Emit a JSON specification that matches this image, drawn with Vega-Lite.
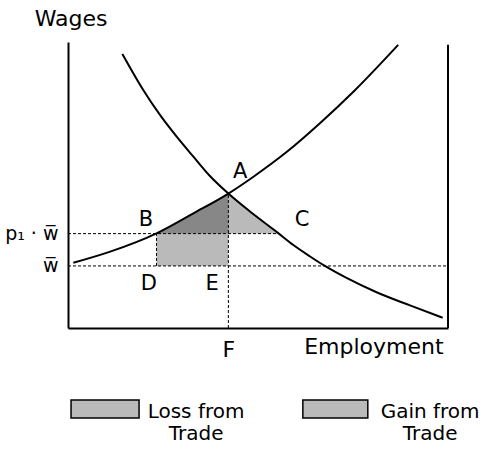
{
  "$schema": "https://vega.github.io/schema/vega-lite/v6.json",
  "autosize": "none",
  "width": 380,
  "height": 286,
  "padding": {"left": 68, "top": 42, "right": 33, "bottom": 121},
  "background": "white",
  "config": {
    "view": {"stroke": null},
    "font": "DejaVu Sans",
    "text": {"font": "DejaVu Sans", "color": "black"}
  },
  "datasets": {
    "curves": [
      {"curve": "supply", "employment": 1.4, "wage": 22.8},
      {"curve": "supply", "employment": 11.1, "wage": 26.7},
      {"curve": "supply", "employment": 23.3, "wage": 33.1},
      {"curve": "supply", "employment": 33.0, "wage": 40.1},
      {"curve": "supply", "employment": 42.2, "wage": 47.0},
      {"curve": "supply", "employment": 48.8, "wage": 52.9},
      {"curve": "supply", "employment": 57.6, "wage": 61.6},
      {"curve": "supply", "employment": 66.3, "wage": 71.6},
      {"curve": "supply", "employment": 75.1, "wage": 82.6},
      {"curve": "supply", "employment": 86.9, "wage": 99.0},
      {"curve": "demand", "employment": 14.3, "wage": 95.8},
      {"curve": "demand", "employment": 19.8, "wage": 83.2},
      {"curve": "demand", "employment": 24.2, "wage": 74.5},
      {"curve": "demand", "employment": 28.6, "wage": 66.9},
      {"curve": "demand", "employment": 33.0, "wage": 59.9},
      {"curve": "demand", "employment": 37.1, "wage": 53.5},
      {"curve": "demand", "employment": 42.2, "wage": 47.0},
      {"curve": "demand", "employment": 48.4, "wage": 40.2},
      {"curve": "demand", "employment": 54.9, "wage": 33.6},
      {"curve": "demand", "employment": 59.3, "wage": 29.0},
      {"curve": "demand", "employment": 63.6, "wage": 25.1},
      {"curve": "demand", "employment": 67.6, "wage": 21.7},
      {"curve": "demand", "employment": 73.3, "wage": 17.5},
      {"curve": "demand", "employment": 81.2, "wage": 12.5},
      {"curve": "demand", "employment": 90.0, "wage": 7.9},
      {"curve": "demand", "employment": 98.6, "wage": 3.6}
    ],
    "loss": [
      {"employment": 23.3, "wage": 33.0, "base": 21.7},
      {"employment": 28.0, "wage": 36.3, "base": 21.7},
      {"employment": 33.0, "wage": 40.1, "base": 21.7},
      {"employment": 37.6, "wage": 43.5, "base": 21.7},
      {"employment": 42.2, "wage": 47.0, "base": 21.7}
    ],
    "gain": [
      {"employment": 23.3, "wage": 33.0, "base": 33.0},
      {"employment": 28.0, "wage": 36.3, "base": 33.0},
      {"employment": 33.0, "wage": 40.1, "base": 33.0},
      {"employment": 37.6, "wage": 43.5, "base": 33.0},
      {"employment": 42.2, "wage": 47.0, "base": 33.0},
      {"employment": 48.4, "wage": 40.2, "base": 33.0},
      {"employment": 55.3, "wage": 33.0, "base": 33.0}
    ],
    "guides": [
      {"x": 0, "x2": 55.3, "y": 33.0, "y2": 33.0},
      {"x": 0, "x2": 100, "y": 21.7, "y2": 21.7},
      {"x": 42.2, "x2": 42.2, "y": 0, "y2": 47.0},
      {"x": 23.3, "x2": 23.3, "y": 21.7, "y2": 33.0}
    ],
    "frame": [
      {"x": 100, "x2": 100, "y": 0, "y2": 99}
    ],
    "points": [
      {"label": "A", "x": 45.3, "y": 54.5},
      {"label": "B", "x": 20.5, "y": 37.8},
      {"label": "C", "x": 61.6, "y": 37.8},
      {"label": "D", "x": 21.3, "y": 15.4},
      {"label": "E", "x": 37.9, "y": 15.4}
    ],
    "titles": [
      {"label": "Wages", "x": 0.8, "y": 108.0},
      {"label": "Employment", "x": 80.5, "y": -6.8}
    ],
    "legendBoxes": [
      {"item": "Loss from Trade", "x": 0.8, "x2": 18.7, "y": -25.2, "y2": -31.5},
      {"item": "Gain from Trade", "x": 61.8, "x2": 78.9, "y": -25.2, "y2": -31.5}
    ],
    "legendText": [
      {"item": "Loss from\nTrade", "x": 33.7, "y": -29.4},
      {"item": "Gain from\nTrade", "x": 95.3, "y": -29.4}
    ]
  },
  "layer": [
    {
      "data": {"name": "loss"},
      "mark": {"type": "area", "fill": "black", "fillOpacity": 0.27, "interpolate": "monotone"},
      "encoding": {
        "x": {"field": "employment", "type": "quantitative", "scale": {"domain": [0, 100], "nice": false, "zero": false},
          "axis": {"values": [42.2], "labelExpr": "'F'", "ticks": false, "grid": false, "title": null, "domainColor": "black", "domainWidth": 2, "labelFontSize": 22, "labelColor": "black", "labelPadding": 11, "labelFont": "DejaVu Sans"}},
        "y": {"field": "wage", "type": "quantitative", "scale": {"domain": [0, 100], "nice": false, "zero": false},
          "axis": {"values": [21.7, 33], "labelExpr": "datum.value > 30 ? 'p₁ · w̅' : 'w̅'", "ticks": false, "grid": false, "title": null, "domainColor": "black", "domainWidth": 2, "labelFontSize": 19, "labelColor": "black", "labelPadding": 10, "labelFont": "DejaVu Sans"}},
        "y2": {"field": "base"}
      }
    },
    {
      "data": {"name": "gain"},
      "mark": {"type": "area", "fill": "black", "fillOpacity": 0.27},
      "encoding": {
        "x": {"field": "employment", "type": "quantitative"},
        "y": {"field": "wage", "type": "quantitative"},
        "y2": {"field": "base"}
      }
    },
    {
      "data": {"name": "guides"},
      "mark": {"type": "rule", "color": "black", "strokeWidth": 1, "strokeDash": [3, 2]},
      "encoding": {
        "x": {"field": "x", "type": "quantitative"},
        "x2": {"field": "x2"},
        "y": {"field": "y", "type": "quantitative"},
        "y2": {"field": "y2"}
      }
    },
    {
      "data": {"name": "frame"},
      "mark": {"type": "rule", "color": "black", "strokeWidth": 2},
      "encoding": {
        "x": {"field": "x", "type": "quantitative"},
        "x2": {"field": "x2"},
        "y": {"field": "y", "type": "quantitative"},
        "y2": {"field": "y2"}
      }
    },
    {
      "data": {"name": "curves"},
      "mark": {"type": "line", "color": "black", "strokeWidth": 2, "interpolate": "monotone"},
      "encoding": {
        "x": {"field": "employment", "type": "quantitative"},
        "y": {"field": "wage", "type": "quantitative"},
        "detail": {"field": "curve"}
      }
    },
    {
      "data": {"name": "points"},
      "mark": {"type": "text", "fontSize": 21, "align": "center", "baseline": "middle"},
      "encoding": {
        "x": {"field": "x", "type": "quantitative"},
        "y": {"field": "y", "type": "quantitative"},
        "text": {"field": "label"}
      }
    },
    {
      "data": {"name": "titles"},
      "mark": {"type": "text", "fontSize": 22, "align": "center", "baseline": "middle"},
      "encoding": {
        "x": {"field": "x", "type": "quantitative"},
        "y": {"field": "y", "type": "quantitative"},
        "text": {"field": "label"}
      }
    },
    {
      "data": {"name": "legendBoxes"},
      "mark": {"type": "rect", "fill": "black", "fillOpacity": 0.27, "stroke": "black", "strokeWidth": 1.5},
      "encoding": {
        "x": {"field": "x", "type": "quantitative"},
        "x2": {"field": "x2"},
        "y": {"field": "y", "type": "quantitative"},
        "y2": {"field": "y2"}
      }
    },
    {
      "data": {"name": "legendText"},
      "mark": {"type": "text", "fontSize": 20, "align": "center", "baseline": "middle", "lineBreak": "\n", "lineHeight": 22},
      "encoding": {
        "x": {"field": "x", "type": "quantitative"},
        "y": {"field": "y", "type": "quantitative"},
        "text": {"field": "item"}
      }
    }
  ]
}
